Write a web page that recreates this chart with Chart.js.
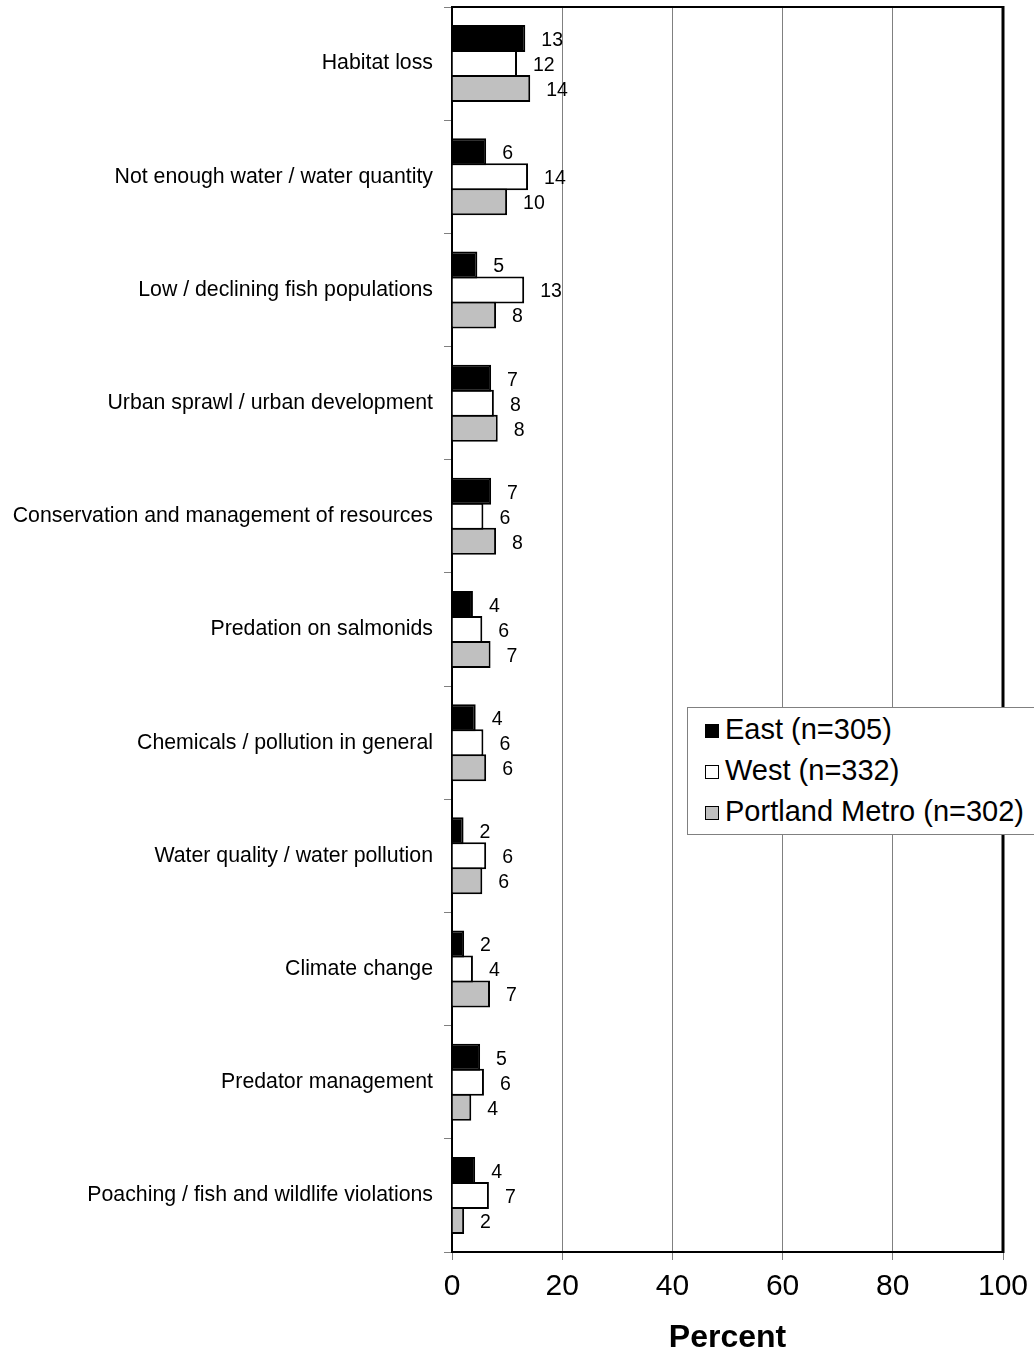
<!DOCTYPE html>
<html>
<head>
<meta charset="utf-8">
<script src="https://cdn.jsdelivr.net/npm/chart.js@4/dist/chart.umd.min.js"></script>
<style>
  html, body { margin: 0; padding: 0; background: #fff; overflow: hidden; }
  #wrap { position: relative; width: 1034px; height: 1357px; }
  #legend {
    position: absolute; left: 687px; top: 707px; width: 380px; height: 126px;
    border: 1px solid #808080; background: #fff;
    font-family: "Liberation Sans", Arial, sans-serif; font-size: 29px; color: #000;
  }
  .item { position: absolute; left: 17px; height: 32px; line-height: 32px; white-space: nowrap; }
  .box { display: inline-block; width: 12px; height: 12px; border: 1.5px solid #000; margin-right: 6px; vertical-align: 1px; }
</style>
</head>
<body>
<div id="wrap">
  <canvas id="chart" width="1034" height="1357"></canvas>
  <div id="legend"></div>
</div>
<script>
const categories = [
  "Habitat loss",
  "Not enough water / water quantity",
  "Low / declining fish populations",
  "Urban sprawl / urban development",
  "Conservation and management of resources",
  "Predation on salmonids",
  "Chemicals / pollution in general",
  "Water quality / water pollution",
  "Climate change",
  "Predator management",
  "Poaching / fish and wildlife violations"
];

const seriesNames = ["East (n=305)", "West (n=332)", "Portland Metro (n=302)"];
const seriesColors = ["#000000", "#ffffff", "#c0c0c0"];

const eastValues  = [13.3, 6.2, 4.6, 7.1, 7.1, 3.8, 4.3, 2.1, 2.2, 5.1, 4.2];
const westValues  = [11.8, 13.8, 13.1, 7.6, 5.7, 5.5, 5.7, 6.2, 3.8, 5.8, 6.7];
const metroValues = [14.2, 10.0, 8.0, 8.3, 8.0, 7.0, 6.2, 5.5, 6.9, 3.5, 2.2];

const xTicks = [0, 20, 40, 60, 80, 100];

const FONT = "'Liberation Sans', Arial, sans-serif";

/* ========== VALUE LABELS + FRAME ========== */
const valueLabels = {
  id: "valueLabels",
  afterDatasetsDraw(chart) {
    const ctx = chart.ctx;
    ctx.save();
    ctx.font = "19.5px " + FONT;
    ctx.fillStyle = "#000";
    ctx.textAlign = "left";
    ctx.textBaseline = "middle";
    chart.data.datasets.forEach((ds, i) => {
      chart.getDatasetMeta(i).data.forEach((bar, j) => {
        ctx.fillText(String(Math.round(ds.data[j])), bar.x + 16, bar.y + 2);
      });
    });
    ctx.restore();
  },
  afterDraw(chart) {
    const { ctx, chartArea: a } = chart;
    ctx.save();
    ctx.strokeStyle = "#000";
    ctx.lineWidth = 2;
    ctx.beginPath();
    ctx.moveTo(a.left, a.top);
    ctx.lineTo(a.right, a.top);
    ctx.stroke();
    ctx.lineWidth = 3;
    ctx.beginPath();
    ctx.moveTo(a.right, a.top - 1);
    ctx.lineTo(a.right, a.bottom + 1);
    ctx.stroke();
    ctx.restore();
  }
};

const values = [eastValues, westValues, metroValues];

const chart = new Chart(document.getElementById("chart"), {
  type: "bar",
  data: {
    labels: categories,
    datasets: values.map((v, i) => ({
      label: seriesNames[i],
      data: v,
      backgroundColor: seriesColors[i],
      borderColor: "#000",
      borderWidth: 2,
      barPercentage: 1.08,
      categoryPercentage: 0.6625
    }))
  },
  options: {
    indexAxis: "y",
    responsive: false,
    animation: false,
    devicePixelRatio: 1,
    layout: { padding: { top: 7, right: 31, bottom: 0, left: 0 } },
    plugins: { legend: { display: false }, tooltip: { enabled: false } },
    scales: {
      x: {
        min: 0,
        max: 100,
        afterBuildTicks: s => { s.ticks = xTicks.map(v => ({ value: v })); },
        afterFit: s => { s.height = 105; s.paddingRight = 0; s.paddingLeft = 0; },
        border: { color: "#000", width: 2 },
        grid: {
          color: c => (c.tick && (c.tick.value === 0 || c.tick.value === 100)) ? "rgba(0,0,0,0)" : "#808080",
          tickColor: "#808080",
          tickLength: 8,
          lineWidth: 1
        },
        ticks: { color: "#000", font: { family: FONT, size: 30 }, padding: 9 },
        title: {
          display: true,
          text: "Percent",
          color: "#000",
          font: { family: FONT, size: 32, weight: "bold" },
          padding: { top: 0, bottom: 0 }
        }
      },
      y: {
        afterFit: s => { s.width = 452; s.paddingTop = 0; s.paddingBottom = 0; },
        border: { color: "#000", width: 2 },
        grid: {
          offset: true,
          drawOnChartArea: false,
          color: "#808080",
          tickLength: 8
        },
        ticks: { color: "#000", font: { family: FONT, size: 21.3 }, padding: 11 }
      }
    }
  },
  plugins: [valueLabels]
});

/* ========== LEGEND ========== */
const legend = document.getElementById("legend");
seriesNames.forEach((name, i) => {
  const item = document.createElement("div");
  item.className = "item";
  item.style.top = (5 + i * 41) + "px";
  item.innerHTML = `<span class="box" style="background:${seriesColors[i]}"></span>${name}`;
  legend.appendChild(item);
});
</script>
</body>
</html>
